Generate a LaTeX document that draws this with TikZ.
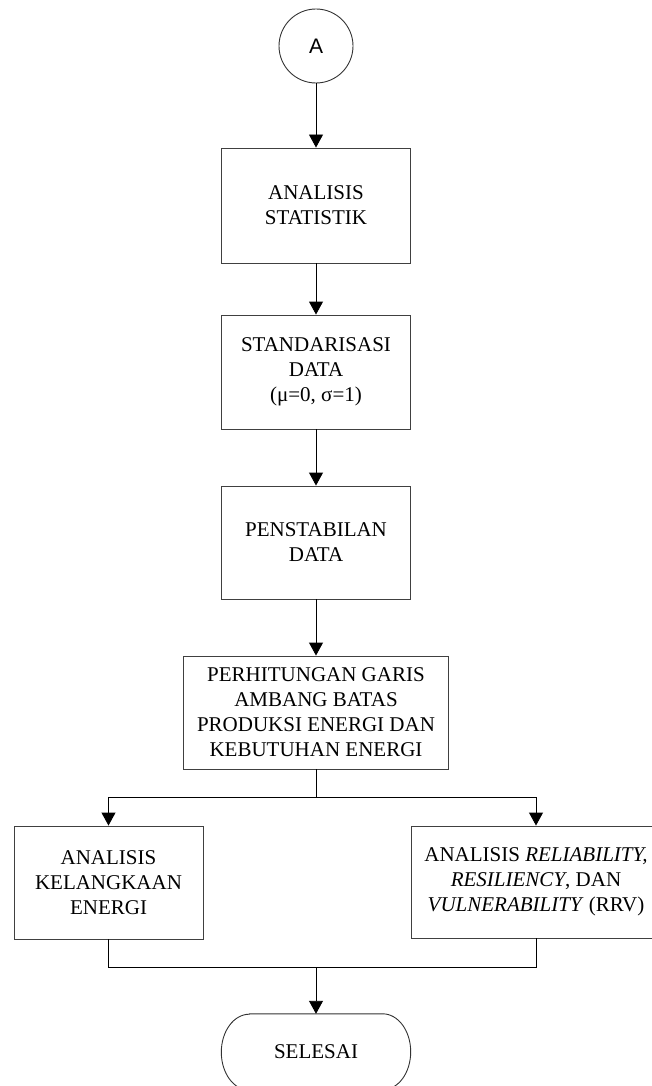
\documentclass[tikz,border=0pt]{standalone}
\usepackage{fontspec}
\setmainfont{Liberation Serif}
\newfontfamily\arialfont{Liberation Sans}
\usetikzlibrary{arrows.meta}
\begin{document}
\begin{tikzpicture}[x=1pt,y=-1pt,
  box/.style={draw=black!75, line width=0.9pt, align=center, inner sep=0pt,
    minimum width=189pt, minimum height=114pt,
    font=\fontsize{21}{25}\selectfont},
  arr/.style={-{Triangle[width=14pt,length=13pt]}, line width=0.9pt},
  conn/.style={line width=0.9pt}]
\useasboundingbox (0,0) rectangle (651,1086);
\node[draw=black!80, line width=0.9pt, circle, minimum size=74pt, inner sep=0pt,
  font=\arialfont\fontsize{21}{24}\selectfont] (start) at (316,46) {A};
\node[box, minimum height=115pt] (b1) at (316,205.5) {ANALISIS\\STATISTIK};
\node[box] (b2) at (316,372) {STANDARISASI\\DATA\\(μ=0, σ=1)};
\node[box, minimum height=113pt] (b3) at (316,542.5) {PENSTABILAN\\DATA};
\node[box, minimum width=265pt, minimum height=113pt] (b4) at (316,712.5)
  {PERHITUNGAN GARIS\\AMBANG BATAS\\PRODUKSI ENERGI DAN\\KEBUTUHAN ENERGI};
\node[box, minimum height=113pt] (left) at (108.5,882.5) {ANALISIS\\KELANGKAAN\\ENERGI};
\node[box, minimum width=250pt, minimum height=112pt] (right) at (536,882)
  {ANALISIS \textit{RELIABILITY,}\\\textit{RESILIENCY}, DAN\\\textit{VULNERABILITY} (RRV)};
\node[minimum width=189pt, minimum height=76pt, inner sep=0pt,
  font=\fontsize{21}{25}\selectfont] (end) at (316,1052) {SELESAI};
\draw[draw=black!80, line width=0.9pt]
  ([xshift=28pt]end.north west) -- ([xshift=-28pt]end.north east)
  arc[start angle=90, end angle=-90, x radius=28pt, y radius=38pt]
  -- ([xshift=28pt]end.south west)
  arc[start angle=270, end angle=90, x radius=28pt, y radius=38pt] -- cycle;
\coordinate (split) at (316,797);
\coordinate (join) at (316,967);
\draw[arr] (start.south) -- (b1.north);
\draw[arr] (b1.south) -- (b2.north);
\draw[arr] (b2.south) -- (b3.north);
\draw[arr] (b3.south) -- (b4.north);
\draw[conn] (b4.south) -- (split);
\draw[arr] (split) -| (left.north);
\draw[arr] (split) -| (right.north);
\draw[conn] (left.south) |- (join);
\draw[conn] (right.south) |- (join);
\draw[arr] (join) -- (end.north);
\end{tikzpicture}
\end{document}
